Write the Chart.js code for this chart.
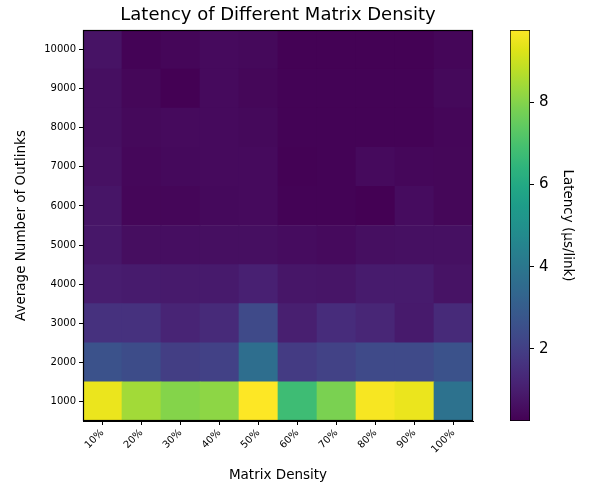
<!DOCTYPE html>
<html>
<head>
<meta charset="utf-8">
<script src="https://cdn.jsdelivr.net/npm/chart.js@4/dist/chart.umd.min.js"></script>
<style>
  html, body { margin: 0; padding: 0; background: #fff; }
  #wrap { position: relative; width: 592px; height: 489px; }
  canvas { position: absolute; left: 0; top: 0; }
</style>
</head>
<body>
<div id="wrap">
  <canvas id="heat" width="592" height="489"></canvas>
  <canvas id="cbar" width="592" height="489"></canvas>
</div>
<script>
// ---- data ----
const categories = ['10%', '20%', '30%', '40%', '50%', '60%', '70%', '80%', '90%', '100%'];
const outlinks = [1000, 2000, 3000, 4000, 5000, 6000, 7000, 8000, 9000, 10000];
const row1000  = [9.47, 8.42, 8.00, 8.13, 9.75, 6.76, 7.85, 9.65, 9.47, 3.81];
const row2000  = [2.63, 2.43, 1.96, 2.05, 3.67, 1.87, 2.10, 2.34, 2.34, 2.63];
const row3000  = [1.58, 1.58, 1.20, 1.39, 2.34, 1.06, 1.44, 1.25, 0.92, 1.39];
const row4000  = [1.01, 0.96, 0.92, 0.92, 1.10, 0.82, 0.77, 0.96, 0.96, 0.73];
const row5000  = [0.85, 0.58, 0.60, 0.62, 0.62, 0.55, 0.50, 0.62, 0.64, 0.64];
const row6000  = [0.78, 0.38, 0.38, 0.47, 0.50, 0.30, 0.30, 0.26, 0.55, 0.40];
const row7000  = [0.68, 0.42, 0.46, 0.50, 0.50, 0.27, 0.30, 0.50, 0.42, 0.40];
const row8000  = [0.62, 0.45, 0.50, 0.50, 0.45, 0.30, 0.30, 0.30, 0.30, 0.38];
const row9000  = [0.62, 0.40, 0.25, 0.50, 0.40, 0.30, 0.30, 0.30, 0.30, 0.45];
const row10000 = [0.72, 0.30, 0.38, 0.50, 0.45, 0.28, 0.28, 0.28, 0.28, 0.38];
const latencyRows = [row1000, row2000, row3000, row4000, row5000, row6000, row7000, row8000, row9000, row10000];
const colorbarTicks = [2, 4, 6, 8];

// ---- viridis colormap ----
const VIRIDIS = ['#440154','#471365','#482475','#463480','#414487','#3b528b','#355f8d','#2f6c8e','#2a788e','#25848e',
                 '#21918c','#1e9c89','#22a884','#2fb47c','#44bf70','#5ec962','#7ad151','#9bd93c','#bddf26','#dfe318','#fde725'];
function hexRgb(h) { return [parseInt(h.slice(1,3),16), parseInt(h.slice(3,5),16), parseInt(h.slice(5,7),16)]; }
const VRGB = VIRIDIS.map(hexRgb);
function viridis(t) {
  t = Math.max(0, Math.min(1, t));
  const p = t * (VRGB.length - 1);
  const i = Math.min(VRGB.length - 2, Math.floor(p));
  const f = p - i;
  const a = VRGB[i], b = VRGB[i + 1];
  return 'rgb(' + a.map((v, k) => Math.round(v + (b[k] - v) * f)).join(',') + ')';
}
const allVals = latencyRows.flat();
const vmin = Math.min(...allVals);
const vmax = Math.max(...allVals);
const norm = v => (v - vmin) / (vmax - vmin);

Chart.defaults.font.family = '"DejaVu Sans", sans-serif';
Chart.defaults.color = '#000';

const framePlugin = {
  id: 'frame',
  afterDraw(chart) {
    const { ctx, chartArea: a } = chart;
    ctx.save();
    ctx.strokeStyle = '#000';
    ctx.lineWidth = 1.2;
    ctx.strokeRect(Math.round(a.left) + 0.5, Math.round(a.top) + 0.5, Math.round(a.right - a.left) - 1, Math.round(a.bottom - a.top) - 1);
    ctx.restore();
  }
};

const step = outlinks[1] - outlinks[0];
const datasets = latencyRows.map((row, r) => ({
  label: String(outlinks[r]),
  data: row.map(() => [outlinks[r] - step / 2, outlinks[r] + step / 2]),
  backgroundColor: row.map(v => viridis(norm(v))),
  borderWidth: 0,
  grouped: false,
  barPercentage: 1,
  categoryPercentage: 1
}));

new Chart(document.getElementById('heat'), {
  type: 'bar',
  data: { labels: categories, datasets },
  options: {
    responsive: false,
    animation: false,
    layout: { padding: { left: 0, right: 119, top: 0, bottom: 0 } },
    plugins: {
      legend: { display: false },
      tooltip: { enabled: false },
      title: {
        display: true,
        text: 'Latency of Different Matrix Density',
        fullSize: false,
        color: '#000',
        font: { size: 18, weight: 'normal' },
        padding: { top: 5, bottom: 3.4 }
      }
    },
    scales: {
      x: {
        type: 'category',
        offset: true,
        grid: { display: true, offset: false, drawOnChartArea: false, drawTicks: true, tickLength: 4, color: '#000', lineWidth: 1 },
        border: { display: true, color: '#000' },
        ticks: { minRotation: 45, maxRotation: 45, autoSkip: false, font: { size: 10 }, padding: 2, color: '#000' },
        title: { display: true, text: 'Matrix Density', font: { size: 13.5 }, padding: { top: 0, bottom: 5 }, color: '#000' },
        afterFit(scale) { scale.height = 68; }
      },
      y: {
        type: 'linear',
        min: outlinks[0] - step / 2,
        max: outlinks[outlinks.length - 1] + step / 2,
        grid: { display: true, drawOnChartArea: false, drawTicks: true, tickLength: 4, color: '#000', lineWidth: 1 },
        border: { display: true, color: '#000' },
        ticks: {
          stepSize: step, includeBounds: false, autoSkip: false,
          font: { size: 10 }, padding: 3, color: '#000',
          callback: v => String(v)
        },
        afterBuildTicks(scale) { scale.ticks = outlinks.map(v => ({ value: v })); },
        title: { display: true, text: 'Average Number of Outlinks', font: { size: 13.5 }, padding: { top: 13, bottom: 0 }, color: '#000' },
        afterFit(scale) { scale.width = 83; }
      }
    }
  },
  plugins: [framePlugin]
});

// ---- colorbar ----
new Chart(document.getElementById('cbar'), {
  type: 'bar',
  data: {
    labels: [''],
    datasets: [{
      data: [[vmin, vmax]],
      backgroundColor(ctx) {
        const ca = ctx.chart.chartArea;
        if (!ca) return '#440154';
        const g = ctx.chart.ctx.createLinearGradient(0, ca.bottom, 0, ca.top);
        for (let i = 0; i <= 40; i++) g.addColorStop(i / 40, viridis(i / 40));
        return g;
      },
      borderColor: '#000',
      borderWidth: 1,
      borderSkipped: false,
      barPercentage: 1,
      categoryPercentage: 1
    }]
  },
  options: {
    responsive: false,
    animation: false,
    layout: { padding: { left: 510, right: 0, top: 30, bottom: 68 } },
    plugins: { legend: { display: false }, tooltip: { enabled: false }, title: { display: false } },
    scales: {
      x: { display: false },
      y: {
        position: 'right',
        min: vmin, max: vmax,
        grid: { display: true, drawOnChartArea: false, drawTicks: true, tickLength: 4, color: '#000' },
        border: { display: false },
        ticks: { stepSize: 2, includeBounds: false, font: { size: 15 }, padding: 5, color: '#000' },
        afterBuildTicks(scale) { scale.ticks = colorbarTicks.map(v => ({ value: v })); },
        title: { display: true, text: 'Latency (μs/link)', font: { size: 13.5 }, padding: { top: 16, bottom: 0 }, color: '#000' },
        afterFit(scale) { scale.width = 62; }
      }
    }
  }
});
</script>
</body>
</html>
